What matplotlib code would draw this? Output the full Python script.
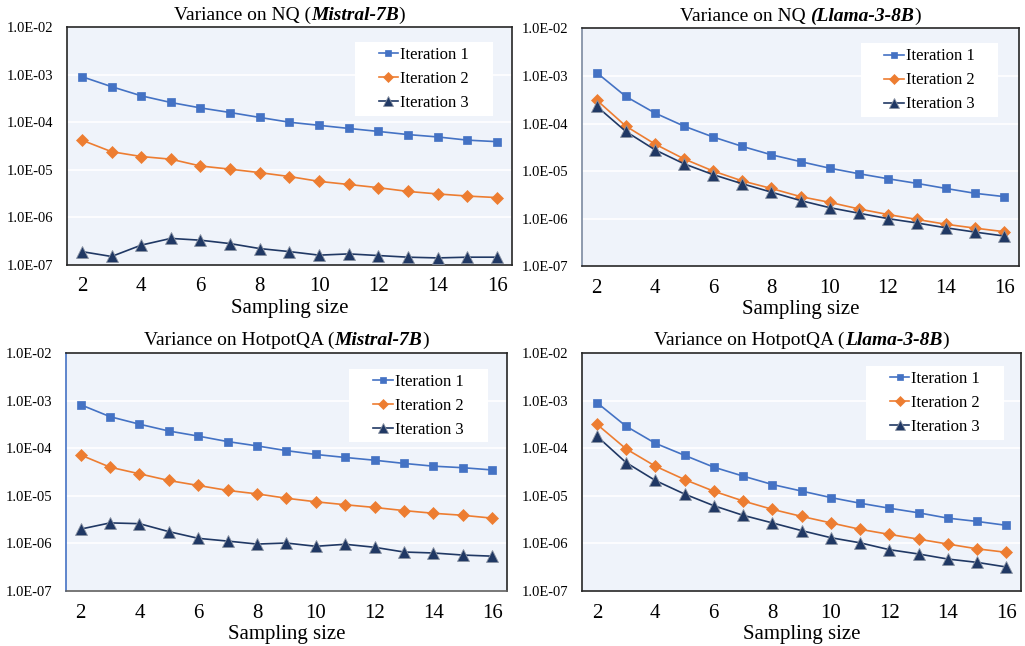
import numpy as np
import matplotlib
matplotlib.use('Agg')
import matplotlib.pyplot as plt
from matplotlib.patches import Rectangle
from matplotlib.ticker import FixedLocator, FuncFormatter
from matplotlib.offsetbox import TextArea, HPacker, AnchoredOffsetbox

plt.rcParams['font.family'] = ['Liberation Serif', 'DejaVu Serif']

# sampling sizes on the x axis
sizes = list(range(2, 17))
series_names = ['Iteration 1', 'Iteration 2', 'Iteration 3']

# NQ, Mistral-7B
nq_mistral_it1 = [9.1e-4, 5.6e-4, 3.6e-4, 2.6e-4, 2.0e-4, 1.6e-4, 1.26e-4, 1.0e-4, 8.6e-5, 7.4e-5, 6.4e-5, 5.5e-5, 4.9e-5, 4.2e-5, 3.9e-5]
nq_mistral_it2 = [4.2e-5, 2.4e-5, 1.9e-5, 1.67e-5, 1.2e-5, 1.03e-5, 8.7e-6, 7.2e-6, 5.7e-6, 4.9e-6, 4.2e-6, 3.5e-6, 3.1e-6, 2.8e-6, 2.6e-6]
nq_mistral_it3 = [1.9e-7, 1.5e-7, 2.6e-7, 3.6e-7, 3.3e-7, 2.8e-7, 2.2e-7, 1.9e-7, 1.6e-7, 1.7e-7, 1.57e-7, 1.45e-7, 1.4e-7, 1.45e-7, 1.45e-7]

# NQ, Llama-3-8B
nq_llama_it1 = [1.17e-3, 3.7e-4, 1.66e-4, 8.8e-5, 5.2e-5, 3.3e-5, 2.2e-5, 1.58e-5, 1.15e-5, 8.8e-6, 6.9e-6, 5.5e-6, 4.3e-6, 3.4e-6, 2.9e-6]
nq_llama_it2 = [3.1e-4, 8.8e-5, 3.7e-5, 1.8e-5, 1.0e-5, 6.2e-6, 4.3e-6, 2.9e-6, 2.2e-6, 1.6e-6, 1.22e-6, 9.6e-7, 7.6e-7, 6.3e-7, 5.3e-7]
nq_llama_it3 = [2.3e-4, 6.8e-5, 2.8e-5, 1.42e-5, 8.4e-6, 5.4e-6, 3.6e-6, 2.4e-6, 1.7e-6, 1.3e-6, 1.0e-6, 8.1e-7, 6.4e-7, 5.2e-7, 4.3e-7]

# HotpotQA, Mistral-7B
hq_mistral_it1 = [8.2e-4, 4.6e-4, 3.2e-4, 2.3e-4, 1.8e-4, 1.38e-4, 1.12e-4, 8.9e-5, 7.4e-5, 6.4e-5, 5.6e-5, 4.8e-5, 4.2e-5, 3.9e-5, 3.5e-5]
hq_mistral_it2 = [7.2e-5, 4.0e-5, 2.9e-5, 2.1e-5, 1.65e-5, 1.3e-5, 1.1e-5, 8.9e-6, 7.5e-6, 6.5e-6, 5.7e-6, 4.9e-6, 4.3e-6, 3.9e-6, 3.4e-6]
hq_mistral_it3 = [2.0e-6, 2.7e-6, 2.6e-6, 1.77e-6, 1.28e-6, 1.12e-6, 9.7e-7, 1.02e-6, 8.7e-7, 9.6e-7, 8.3e-7, 6.6e-7, 6.3e-7, 5.7e-7, 5.4e-7]

# HotpotQA, Llama-3-8B
hq_llama_it1 = [9.1e-4, 2.9e-4, 1.27e-4, 7.1e-5, 4.0e-5, 2.6e-5, 1.73e-5, 1.26e-5, 9.2e-6, 7.0e-6, 5.5e-6, 4.4e-6, 3.4e-6, 2.9e-6, 2.4e-6]
hq_llama_it2 = [3.2e-4, 9.7e-5, 4.2e-5, 2.2e-5, 1.25e-5, 7.8e-6, 5.2e-6, 3.7e-6, 2.7e-6, 1.98e-6, 1.55e-6, 1.23e-6, 9.7e-7, 7.7e-7, 6.5e-7]
hq_llama_it3 = [1.8e-4, 5.0e-5, 2.1e-5, 1.09e-5, 6.2e-6, 3.9e-6, 2.7e-6, 1.86e-6, 1.32e-6, 1.03e-6, 7.4e-7, 6.0e-7, 4.7e-7, 4.0e-7, 3.2e-7]

yticks = [1e-7, 1e-6, 1e-5, 1e-4, 1e-3, 1e-2]

colors = ['#4472C4', '#ED7D31', '#203864']
markers = ['s', 'D', '^']
msizes = [5.5, 6.0, 8.0]

# (plain title part, bold-italic part, closing part, series, axes rect, legend box x0, y0, x1, y1)
panels = [
    ('Variance on NQ (', 'Mistral-7B', ')', [nq_mistral_it1, nq_mistral_it2, nq_mistral_it3],
     [0.0654, 0.590, 0.434, 0.368], (0.647, 0.626, 0.957, 0.937)),
    ('Variance on NQ ', '(Llama-3-8B', ')', [nq_llama_it1, nq_llama_it2, nq_llama_it3],
     [0.568, 0.588, 0.426, 0.368], (0.638, 0.626, 0.952, 0.937)),
    ('Variance on HotpotQA (', 'Mistral-7B', ')', [hq_mistral_it1, hq_mistral_it2, hq_mistral_it3],
     [0.0644, 0.0851, 0.430, 0.3684], (0.642, 0.626, 0.957, 0.933)),
    ('Variance on HotpotQA (', 'Llama-3-8B', ')', [hq_llama_it1, hq_llama_it2, hq_llama_it3],
     [0.568, 0.0851, 0.428, 0.3684], (0.647, 0.634, 0.961, 0.945)),
]

fig = plt.figure(figsize=(10.25, 6.46), dpi=100)

for i, (t1, t2, t3, series, rect, lbox) in enumerate(panels):
    ax = fig.add_axes(rect)
    ax.set_facecolor('#EFF3FA')
    for j, ys in enumerate(series):
        ax.plot(sizes, ys, color=colors[j], marker=markers[j], markersize=msizes[j],
                linewidth=1.2, markeredgecolor=colors[j] if j < 2 else '#8A93A3',
                markeredgewidth=0.6 if j == 2 else 0.5,
                label=series_names[j], zorder=3)
    ax.set_yscale('log')
    ax.set_ylim(1e-7, 1e-2)
    ax.set_xlim(1.5, 16.5)
    ax.yaxis.set_major_locator(FixedLocator(yticks))
    ax.yaxis.set_minor_locator(FixedLocator([]))
    ax.yaxis.set_major_formatter(FuncFormatter(lambda v, p: '1.0E-%02d' % (-int(round(np.log10(v))))))
    ax.set_xticks(range(2, 17, 2))
    ax.tick_params(axis='y', length=0, pad=10, labelsize=10.5)
    ax.tick_params(axis='x', length=0, pad=9, labelsize=15)
    ax.grid(axis='y', color='white', linewidth=1.2, zorder=0)
    ax.set_axisbelow(True)
    ax.set_xlabel('Sampling size', fontsize=15, labelpad=2)
    for s in ax.spines.values():
        s.set_color('#262626')
        s.set_linewidth(1.2)
    if i == 1:
        ax.spines['left'].set_color('#7C8AA0')
    if i == 2:
        ax.spines['left'].set_color('#4472C4')
        ax.spines['bottom'].set_color('#606060')

    # white legend box, legend centred in it
    x0, y0, x1, y1 = lbox
    ax.add_patch(Rectangle((x0, y0), x1 - x0, y1 - y0, transform=ax.transAxes,
                           facecolor='white', edgecolor='none', zorder=2.5))
    leg = ax.legend(loc='center', bbox_to_anchor=((x0 + x1) / 2, (y0 + y1) / 2),
                    borderaxespad=0, fontsize=12, frameon=False,
                    handlelength=1.15, handletextpad=0.12,
                    labelspacing=0.48, borderpad=0)
    for h in leg.legend_handles:
        h.set_markersize(h.get_markersize() * 0.85)

    # title with a bold-italic model name
    parts = [TextArea(t1, textprops=dict(fontsize=14)),
             TextArea(t2, textprops=dict(fontsize=14, fontweight='bold', fontstyle='italic')),
             TextArea(t3, textprops=dict(fontsize=14))]
    box = HPacker(children=parts, align='baseline', pad=0, sep=0)
    anchored = AnchoredOffsetbox(loc='lower center', child=box, pad=0, borderpad=0,
                                 frameon=False, bbox_to_anchor=(0.5, 1.015),
                                 bbox_transform=ax.transAxes)
    ax.add_artist(anchored)

fig.savefig('out.png', dpi=100)
